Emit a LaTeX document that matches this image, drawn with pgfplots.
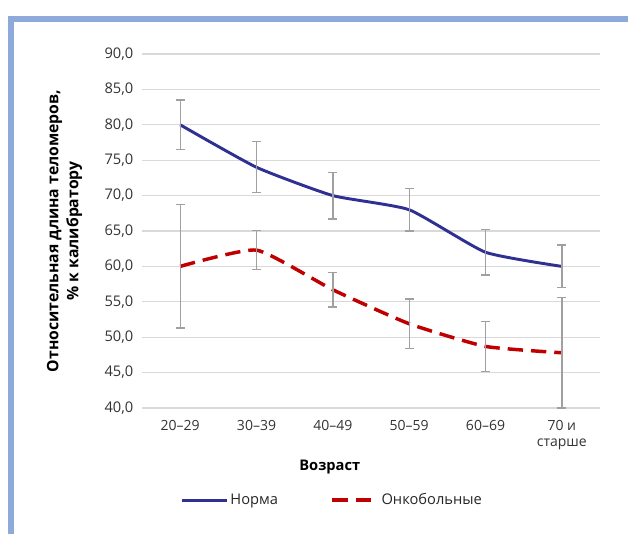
\documentclass[border=0pt]{standalone}
\usepackage{fontspec}
\setmainfont{Open Sans}
\usepackage{pgfplots}
\pgfplotsset{compat=1.18}
\definecolor{norma}{HTML}{2E3192}
\definecolor{onko}{HTML}{C00000}
\definecolor{framec}{HTML}{8EAADB}
\definecolor{gridc}{HTML}{D9D9D9}
\definecolor{errc}{HTML}{A0A0A0}
\definecolor{tickc}{HTML}{333333}
\begin{document}
\begin{tikzpicture}
\path[use as bounding box] (0,0) rectangle (471pt,-400.5pt);
\fill[framec] (6pt,-12pt) rectangle (471pt,-16.5pt);
\fill[framec] (6pt,-12pt) rectangle (10.5pt,-400.5pt);
\begin{axis}[
  at={(106.5pt,-306pt)}, anchor=south west,
  width=343.5pt, height=265.5pt, scale only axis,
  xmin=-0.5, xmax=5.5, ymin=40, ymax=90,
  clip=false,
  axis line style={draw=none},
  tick style={draw=none},
  ymajorgrids, grid style={gridc, line width=0.8pt},
  ytick={40,45,...,90},
  xtick={0,1,2,3,4,5},
  xticklabels={20–29,30–39,40–49,50–59,60–69,{70 и\\старше}},
  xticklabel style={align=center, font=\fontsize{10.5}{12}\selectfont, text=tickc, yshift=-6pt},
  yticklabel style={font=\fontsize{11}{12}\selectfont, text=tickc, xshift=-3pt,
    /pgf/number format/.cd, fixed, fixed zerofill, precision=1, use comma, assume math mode=true},
  xlabel={Возраст},
  xlabel style={font=\fontsize{11}{13}\selectfont\bfseries, at={(rel axis cs:0.41,0)}, anchor=center, yshift=-44pt},
  ylabel={Относительная длина теломеров,\\\% к калибратору},
  ylabel style={font=\fontsize{11.8}{15}\selectfont\bfseries, align=center, at={(rel axis cs:0,0.5)}, anchor=center, yshift=58pt},
  legend columns=2,
  legend style={at={(rel axis cs:0.415,-0.26)}, anchor=center, draw=none, fill=none,
    font=\fontsize{11}{13}\selectfont, text=black!85,
    /tikz/every even column/.append style={column sep=38pt},
    nodes={inner xsep=1.5pt}},
  legend image code/.code={\draw[#1] (0pt,0pt) -- (34pt,0pt);},
]
\addplot[norma, line width=2.2pt, smooth, tension=0.3, mark=none,
  error bars/.cd, y dir=both, y explicit,
  error bar style={errc, line width=1pt, solid},
  error mark options={rotate=90, errc, mark size=3.3pt, line width=1pt, solid}]
coordinates {
 (0,80.0) +- (0,3.5)
 (1,74.0) +- (0,3.6)
 (2,70.0) +- (0,3.3)
 (3,68.0) +- (0,3.0)
 (4,62.0) +- (0,3.2)
 (5,60.0) +- (0,3.0)
};
\addlegendentry{Норма}
\addplot[onko, line width=2.6pt, smooth, tension=0.3, mark=none, dash pattern=on 11.5pt off 6pt,
  error bars/.cd, y dir=both, y explicit,
  error bar style={errc, line width=1pt, solid},
  error mark options={rotate=90, errc, mark size=3.3pt, line width=1pt, solid}]
coordinates {
 (0,60.0) +- (0,8.7)
 (1,62.3) +- (0,2.75)
 (2,56.7) +- (0,2.45)
 (3,51.9) +- (0,3.5)
 (4,48.7) +- (0,3.5)
 (5,47.8) +- (0,7.8)
};
\addlegendentry{Онкобольные}
\end{axis}
\end{tikzpicture}
\end{document}
